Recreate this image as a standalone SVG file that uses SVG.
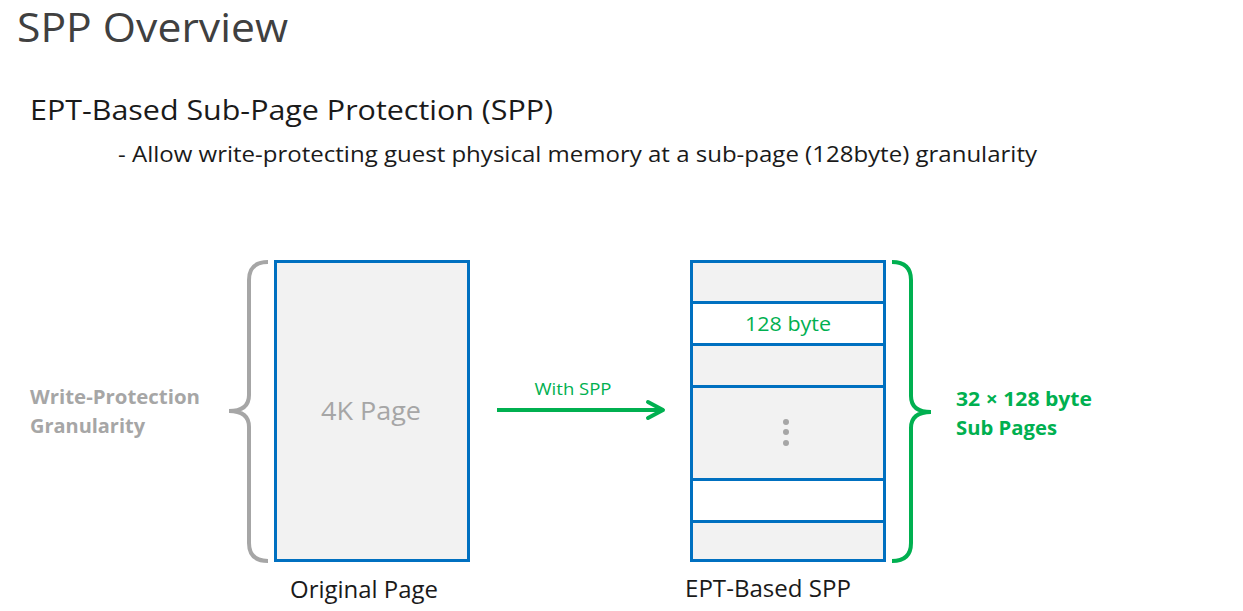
<svg xmlns="http://www.w3.org/2000/svg" width="1243" height="611" viewBox="0 0 1243 611">
<style>
text{font-family:"Open Sans","Noto Sans","Liberation Sans",sans-serif}
.dark{fill:#404040}
.blk{fill:#1a1a1a}
.gray{fill:#A6A6A6}
.green{fill:#00B050}
.b{font-weight:bold}
.box{stroke:#0070C0;stroke-width:3}
.g{fill:#F2F2F2}
.w{fill:#FFFFFF}
.arrow{fill:none;stroke:#00B050;stroke-width:4}
</style>
<rect width="1243" height="611" fill="#fff"/>
<g id="title">
<text x="17" y="42" font-size="41" class="dark" textLength="271" lengthAdjust="spacingAndGlyphs">SPP Overview</text>
<text x="30" y="120" font-size="28" class="blk" textLength="523" lengthAdjust="spacingAndGlyphs">EPT-Based Sub-Page Protection (SPP)</text>
<text x="118" y="162" font-size="22" class="blk" textLength="919" lengthAdjust="spacingAndGlyphs">- Allow write-protecting guest physical memory at a sub-page (128byte) granularity</text>
</g>
<g id="granularity-label">
<text x="30" y="404" font-size="19" class="gray b" textLength="170" lengthAdjust="spacingAndGlyphs">Write-Protection</text>
<text x="30" y="433" font-size="19" class="gray b" textLength="115" lengthAdjust="spacingAndGlyphs">Granularity</text>
</g>
<g id="gray-brace">
<path d="M268,262 Q249,262 249,280 L249,395 Q249,411 229,411 Q249,411 249,427 L249,543 Q249,561 268,561" fill="none" stroke="#A6A6A6" stroke-width="4"/>
</g>
<g id="original-page">
<rect x="275.5" y="261.5" width="193" height="299" class="box g"/>
<text x="371" y="420" font-size="26" class="gray" text-anchor="middle" textLength="100" lengthAdjust="spacingAndGlyphs">4K Page</text>
<text x="364" y="598" font-size="23" class="blk" text-anchor="middle" textLength="148" lengthAdjust="spacingAndGlyphs">Original Page</text>
</g>
<g id="connectors">
<line x1="497" y1="410" x2="662" y2="410" class="arrow"/>
<polyline points="648,402 663,410 648,418" class="arrow" stroke-linecap="round" stroke-linejoin="round"/>
<text x="573" y="395" font-size="16" class="green" text-anchor="middle" textLength="77" lengthAdjust="spacingAndGlyphs">With SPP</text>
</g>
<g id="ept-spp">
<rect x="691.5" y="261.5" width="193" height="41" class="box g"/>
<rect x="691.5" y="302.5" width="193" height="42" class="box w"/>
<rect x="691.5" y="344.5" width="193" height="42" class="box g"/>
<rect x="691.5" y="386.5" width="193" height="93" class="box g"/>
<rect x="691.5" y="479.5" width="193" height="42" class="box w"/>
<rect x="691.5" y="521.5" width="193" height="39" class="box g"/>
<text x="788" y="331" font-size="20" class="green" text-anchor="middle" textLength="86" lengthAdjust="spacingAndGlyphs">128 byte</text>
<circle cx="786" cy="422" r="3" fill="#A6A6A6"/>
<circle cx="786" cy="432" r="3" fill="#A6A6A6"/>
<circle cx="786" cy="443" r="3" fill="#A6A6A6"/>
<text x="768" y="597" font-size="23" class="blk" text-anchor="middle" textLength="166" lengthAdjust="spacingAndGlyphs">EPT-Based SPP</text>
</g>
<g id="green-brace">
<path d="M892,262 Q911,262 911,280 L911,396 Q911,412 931,412 Q911,412 911,428 L911,543 Q911,561 892,561" fill="none" stroke="#00B050" stroke-width="4"/>
</g>
<g id="subpages-label">
<text x="956" y="406" font-size="19" class="green b" textLength="136" lengthAdjust="spacingAndGlyphs">32 × 128 byte</text>
<text x="956" y="435" font-size="19" class="green b" textLength="101" lengthAdjust="spacingAndGlyphs">Sub Pages</text>
</g>
</svg>
